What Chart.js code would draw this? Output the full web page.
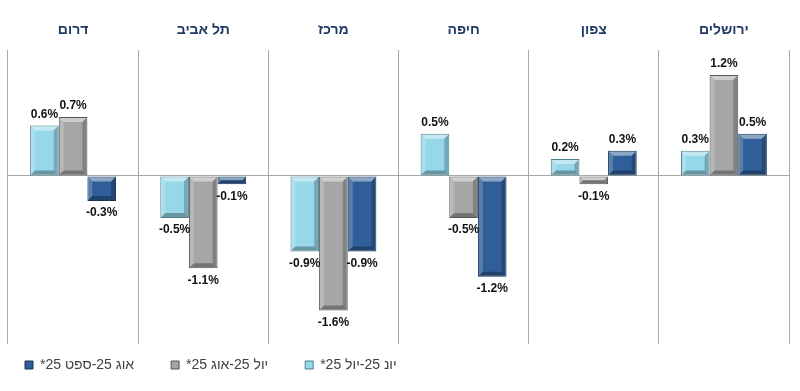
<!DOCTYPE html>
<html>
<head>
<meta charset="utf-8">
<script src="https://cdn.jsdelivr.net/npm/chart.js@4.4.1/dist/chart.umd.min.js"></script>
<style>
  body { margin: 0; background: #fff; }
  #wrap { width: 800px; height: 391px; }
</style>
</head>
<body>
<div id="wrap"><canvas id="regions"></canvas></div>
<script>
// districts, left to right as in the picture
const districts = ["דרום", "תל אביב", "מרכז", "חיפה", "צפון", "ירושלים"];
const seriesNames = ["יונ 25-יול 25*", "יול 25-אוג 25*", "אוג 25-ספט 25*"];
const junJul = [0.6, -0.5, -0.9, 0.5, 0.2, 0.3];
const julAug = [0.7, -1.1, -1.6, -0.5, -0.1, 1.2];
const augSep = [-0.3, -0.1, -0.9, -1.2, 0.3, 0.5];

const FONT = "'Liberation Sans', Arial, sans-serif";

// shaded edges so bars look like the bevelled ones
const bevelPlugin = {
    id: "bevel",
    afterDatasetsDraw(chart) {
        const ctx = chart.ctx;
        chart.data.datasets.forEach((ds, i) => {
            chart.getDatasetMeta(i).data.forEach(bar => {
                const l = bar.x - bar.width / 2 + 1, r = bar.x + bar.width / 2 - 1;
                const t = Math.min(bar.y, bar.base) + 1, b = Math.max(bar.y, bar.base) - 1;
                const d = Math.min(4, (b - t) / 2, (r - l) / 2);
                const side = (pts, fill) => {
                    ctx.beginPath();
                    ctx.moveTo(pts[0][0], pts[0][1]);
                    pts.slice(1).forEach(p => ctx.lineTo(p[0], p[1]));
                    ctx.closePath();
                    ctx.fillStyle = fill;
                    ctx.fill();
                };
                ctx.save();
                side([[l, t], [r, t], [r - d, t + d], [l + d, t + d]], "rgba(255,255,255,0.45)");
                side([[l, t], [l + d, t + d], [l + d, b - d], [l, b]], "rgba(255,255,255,0.2)");
                side([[r, t], [r, b], [r - d, b - d], [r - d, t + d]], "rgba(0,0,0,0.22)");
                side([[l, b], [l + d, b - d], [r - d, b - d], [r, b]], "rgba(0,0,0,0.3)");
                ctx.restore();
            });
        });
    }
};

// value labels outside the bar ends
const valueLabels = {
    id: "valueLabels",
    afterDatasetsDraw(chart) {
        const ctx = chart.ctx;
        ctx.save();
        ctx.direction = "ltr";
        ctx.font = "bold 12px " + FONT;
        ctx.fillStyle = "#111";
        ctx.textAlign = "center";
        ctx.textBaseline = "middle";
        chart.data.datasets.forEach((ds, i) => {
            chart.getDatasetMeta(i).data.forEach((bar, j) => {
                const v = ds.data[j];
                const y = v >= 0 ? bar.y - 11 : bar.y + 12;
                ctx.fillText(v.toFixed(1) + "%", bar.x, y);
            });
        });
        ctx.restore();
    }
};

// spread legend items wider without making the legend taller
const legendSpacing = {
    id: "legendSpacing",
    afterLayout(chart) {
        const lg = chart.legend;
        lg.options.labels.padding = 37;
        lg.top -= 23;
        lg.left -= 12;
    }
};

new Chart(document.getElementById("regions"), {
    type: "bar",
    data: {
        labels: districts,
        datasets: [
            { label: seriesNames[0], data: junJul, backgroundColor: "#96d8e9", borderColor: "#4d7f8c" },
            { label: seriesNames[1], data: julAug, backgroundColor: "#a6a6a6", borderColor: "#555" },
            { label: seriesNames[2], data: augSep, backgroundColor: "#2f5e98", borderColor: "#1b3556" }
        ]
    },
    options: {
        responsive: true,
        maintainAspectRatio: false,
        animation: false,
        layout: { padding: { top: 11, right: 11, left: 0, bottom: 0 } },
        datasets: {
            bar: { borderWidth: 1, borderSkipped: false, barPercentage: 1, categoryPercentage: 0.66 }
        },
        scales: {
            x: {
                position: "top",
                grid: { color: "#a8a8a8", drawTicks: false },
                border: { display: false },
                ticks: { font: { family: FONT, size: 14, weight: "bold" }, color: "#1f3864", padding: 11 }
            },
            y: {
                min: -2,
                max: 1.5,
                afterFit(scale) { scale.width = 8; },
                grid: {
                    drawTicks: false,
                    color: c => c.tick.value === 0 ? "#a8a8a8" : "rgba(0,0,0,0)"
                },
                border: { display: false },
                ticks: { display: false, stepSize: 0.5 }
            }
        },
        plugins: {
            tooltip: { enabled: false },
            legend: {
                position: "bottom",
                align: "start",
                reverse: true,
                rtl: false,
                textDirection: "rtl",
                labels: {
                    boxWidth: 8,
                    boxHeight: 8,
                    padding: 23,
                    color: "#404040",
                    font: { family: FONT, size: 14 }
                }
            }
        }
    },
    plugins: [bevelPlugin, valueLabels, legendSpacing]
});
</script>
</body>
</html>
